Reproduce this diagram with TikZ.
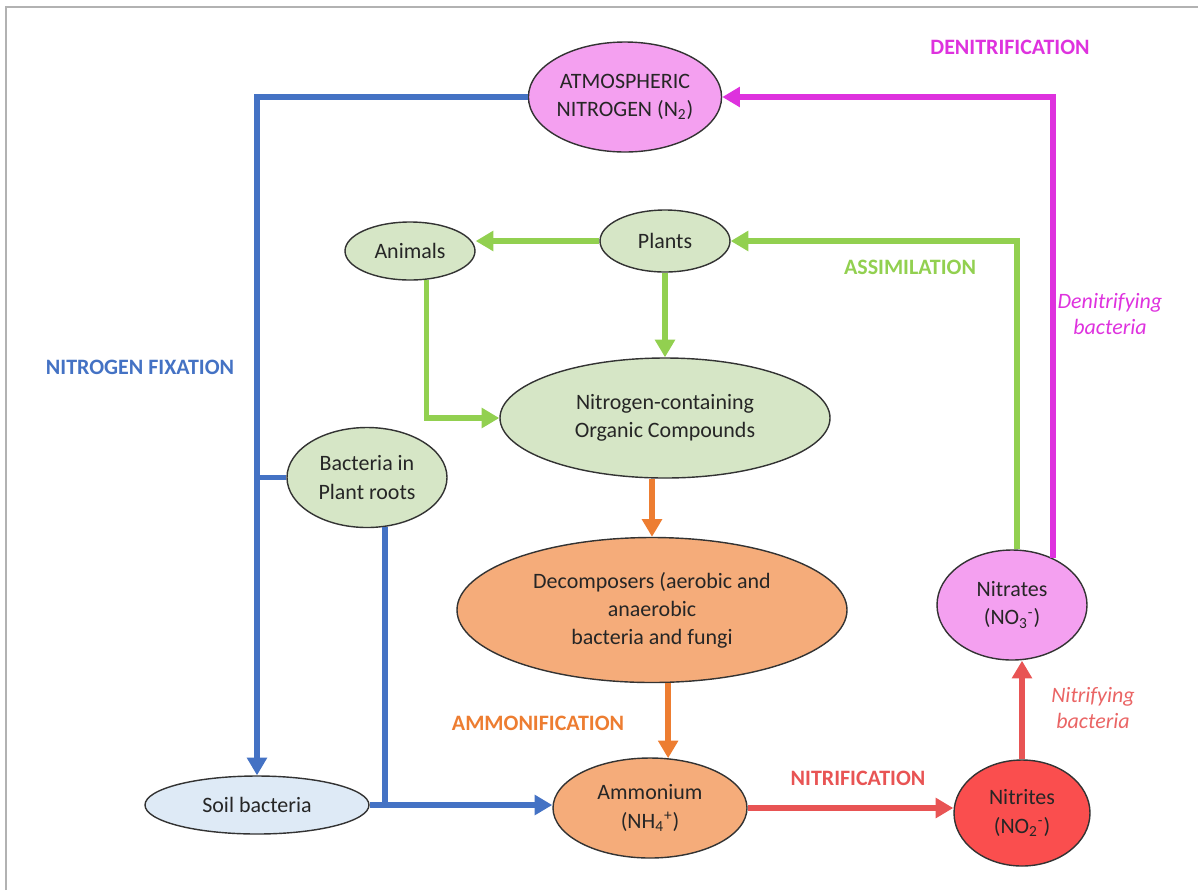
\documentclass[tikz,border=0pt]{standalone}
\usepackage{fontspec}
\setmainfont{Carlito}
\usetikzlibrary{arrows.meta,shapes.geometric,positioning}
\definecolor{fixblue}{RGB}{68,114,196}
\definecolor{assgreen}{RGB}{146,208,80}
\definecolor{ammorange}{RGB}{237,125,49}
\definecolor{nitred}{RGB}{232,84,84}
\definecolor{denitmag}{RGB}{222,50,222}
\definecolor{pinkfill}{RGB}{244,160,240}
\definecolor{greenfill}{RGB}{214,230,198}
\definecolor{orangefill}{RGB}{245,172,122}
\definecolor{redfill}{RGB}{250,78,78}
\definecolor{bluefill}{RGB}{222,234,246}

\begin{document}
\begin{tikzpicture}[
      myellipse/.style={
         ellipse,
         draw=black!80,
         line width=0.8pt,
         inner sep=0pt,
         align=center,
         text=black!85,
         font=\fontsize{12.5}{16}\selectfont},
      mylabel/.style={
         font=\bfseries\fontsize{12.5}{15}\selectfont},
      myitalic/.style={
         align=center,
         font=\itshape\fontsize{12.5}{15}\selectfont},
      myarrow/.style={line width=3.1pt,-{Triangle[length=10pt,width=11pt]}},
      myline/.style={line width=3.1pt}
      ]
      \useasboundingbox (0,0) rectangle (23.96,-17.8);
      \draw[gray!60,line width=1pt] (0.12,-17.8) -- (0.12,-0.14) -- (23.96,-0.14);
      % nodes
      \node[myellipse,fill=pinkfill,minimum width=3.8cm,minimum height=2.2cm] (atm) at (12.5,-1.94) {ATMOSPHERIC\\NITROGEN (N\textsubscript{2})};
      \node[myellipse,fill=greenfill,minimum width=2.6cm,minimum height=1.24cm] (plants) at (13.3,-4.82) {Plants};
      \node[myellipse,fill=greenfill,minimum width=2.6cm,minimum height=1.16cm] (animals) at (8.2,-5.02) {Animals};
      \node[myellipse,fill=greenfill,minimum width=6.6cm,minimum height=2.4cm] (organic) at (13.3,-8.36) {Nitrogen-containing\\Organic Compounds};
      \node[myellipse,fill=greenfill,minimum width=3.2cm,minimum height=2cm] (bacteria) at (7.34,-9.55) {Bacteria in\\Plant roots};
      \node[myellipse,fill=orangefill,minimum width=7.8cm,minimum height=2.9cm] (decomp) at (13.04,-12.2) {Decomposers (aerobic and\\anaerobic\\bacteria and fungi};
      \node[myellipse,fill=bluefill,minimum width=4.48cm,minimum height=1.16cm] (soil) at (5.14,-16.1) {Soil bacteria};
      \node[myellipse,fill=orangefill,minimum width=3.88cm,minimum height=2cm] (ammon) at (13,-16.16) {Ammonium\\(NH\textsubscript{4}\textsuperscript{+})};
      \node[myellipse,fill=redfill,minimum width=2.72cm,minimum height=2.12cm] (nitrites) at (20.44,-16.26) {Nitrites\\(NO\textsubscript{2}\textsuperscript{-})};
      \node[myellipse,fill=pinkfill,minimum width=3cm,minimum height=2.2cm] (nitrates) at (20.24,-12.1) {Nitrates\\(NO\textsubscript{3}\textsuperscript{-})};
      % labels
      \node[mylabel,text=denitmag] (l1) at (20.2,-0.94) {DENITRIFICATION};
      \node[myitalic,text=denitmag] (l2) at (22.2,-6.28) {Denitrifying\\bacteria};
      \node[mylabel,text=fixblue] (l3) at (2.8,-7.34) {NITROGEN FIXATION};
      \node[mylabel,text=assgreen] (l4) at (18.2,-5.34) {ASSIMILATION};
      \node[mylabel,text=ammorange] (l5) at (10.76,-14.46) {AMMONIFICATION};
      \node[mylabel,text=nitred] (l6) at (17.16,-15.56) {NITRIFICATION};
      \node[myitalic,text=nitred!90] (l7) at (21.86,-14.16) {Nitrifying\\bacteria};
      % connectors
      \draw[myarrow,denitmag] (nitrates.49) |- (atm.east);
      \draw[myarrow,assgreen] (nitrates.85) |- (plants.east);
      \draw[myarrow,fixblue] (atm.west) -| (soil.north);
      \draw[myline,fixblue] (bacteria.west) -- (bacteria.west -| soil.north);
      \draw[myline,fixblue] (bacteria.290) -- (bacteria.290 |- soil.east);
      \draw[myarrow,fixblue] (soil.east) -- (soil.east -| ammon.west);
      \draw[myarrow,assgreen] (plants.west) -- (plants.west -| animals.east);
      \draw[myarrow,assgreen] (plants.south) -- (organic.north);
      \draw[myarrow,assgreen] (animals.300) |- (organic.west);
      \draw[myarrow,ammorange] (decomp.north |- organic.south) -- (decomp.north);
      \draw[myarrow,ammorange] (decomp.south -| ammon.70) -- (ammon.70);
      \draw[myarrow,nitred] (ammon.east) -- (ammon.east -| nitrites.west);
      \draw[myarrow,nitred] (nitrites.north) -- (nitrites.north |- nitrates.south);
\end{tikzpicture}
\end{document}
